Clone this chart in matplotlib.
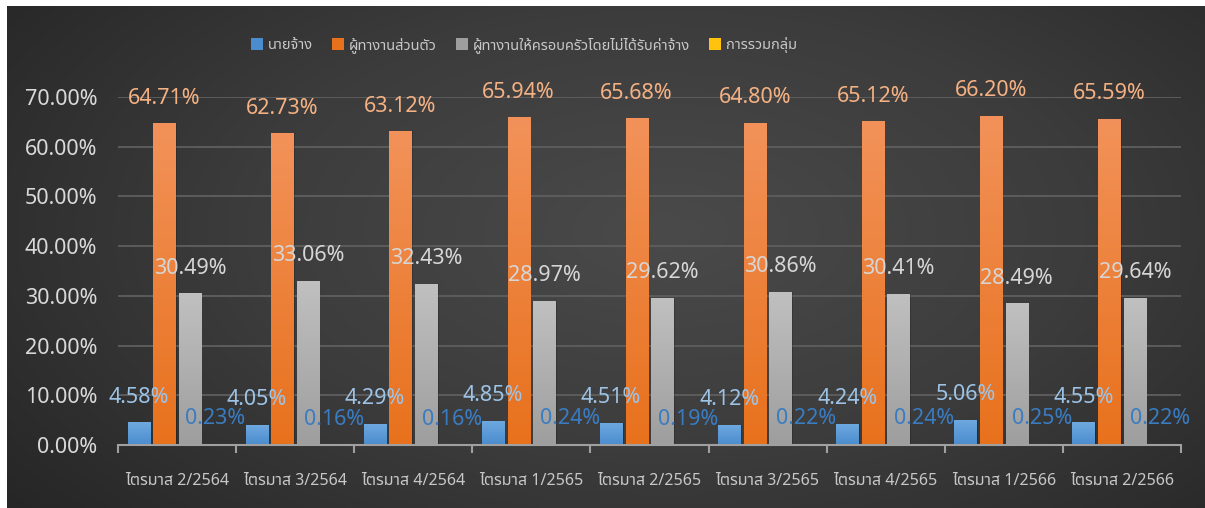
import numpy as np
import matplotlib
matplotlib.use("Agg")
import matplotlib.pyplot as plt
from matplotlib import font_manager
from matplotlib.ft2font import FT2Font
from matplotlib.colors import LinearSegmentedColormap
from matplotlib.patches import Rectangle

# ---- data -------------------------------------------------------------
quarters = ["ไตรมาส 2/2564", "ไตรมาส 3/2564", "ไตรมาส 4/2564",
            "ไตรมาส 1/2565", "ไตรมาส 2/2565", "ไตรมาส 3/2565",
            "ไตรมาส 4/2565", "ไตรมาส 1/2566", "ไตรมาส 2/2566"]
series_names = ["นายจ้าง", "ผู้ทางานส่วนตัว",
                "ผู้ทางานให้ครอบครัวโดยไม่ได้รับค่าจ้าง", "การรวมกลุ่ม"]
employer = [4.58, 4.05, 4.29, 4.85, 4.51, 4.12, 4.24, 5.06, 4.55]
own_account = [64.71, 62.73, 63.12, 65.94, 65.68, 64.80, 65.12, 66.20, 65.59]
family_unpaid = [30.49, 33.06, 32.43, 28.97, 29.62, 30.86, 30.41, 28.49, 29.64]
group_members = [0.23, 0.16, 0.16, 0.24, 0.19, 0.22, 0.24, 0.25, 0.22]
y_ticks = [0, 10, 20, 30, 40, 50, 60, 70]


# ---- fonts ------------------------------------------------------------
def family_covering(char, preferred):
    code = ord(char)
    found = {}
    for fe in font_manager.fontManager.ttflist:
        if fe.name in found:
            continue
        try:
            cmap = FT2Font(fe.fname).get_charmap()
        except Exception:
            continue
        if code in cmap:
            found[fe.name] = fe.fname
    for name in preferred:
        if name in found:
            return name
    return next(iter(found), None)


thai = family_covering("ไ", ["Noto Sans Thai", "Noto Sans Thai UI",
                             "Leelawadee UI", "Tahoma", "Loma", "Garuda",
                             "Sarabun", "Noto Serif Thai", "FreeSans"])
thai_family = ([thai] if thai else []) + ["DejaVu Sans"]
num_family = ["Noto Sans", "DejaVu Sans"]

# ---- figure -----------------------------------------------------------
W, H = 1205, 508
fig = plt.figure(figsize=(W / 100, H / 100), dpi=100, facecolor="white")

# dark panel with a soft radial light in the middle
bg = fig.add_axes([7 / W, 0, (W - 7) / W, (H - 6) / H], zorder=-10)
gy, gx = np.mgrid[0:1:300j, 0:1:700j]
r = np.sqrt(((gx - 0.55) / 0.75) ** 2 + ((gy - 0.55) / 0.95) ** 2)
r = np.clip(r, 0, 1)
bg_cmap = LinearSegmentedColormap.from_list("bg", ["#4a4a4a", "#3c3c3c", "#262626"])
bg.imshow(r, cmap=bg_cmap, aspect="auto", extent=[0, 1, 0, 1], origin="lower",
          interpolation="bicubic")
bg.set_axis_off()

ax = fig.add_axes([118 / W, (H - 445) / H, (1181 - 118) / W, (445 - 97) / H])
ax.set_facecolor("none")

x = np.arange(len(quarters))
step = 0.217
width = 0.187
offsets = [-1.5 * step, -0.5 * step, 0.5 * step, 1.5 * step]
values = [employer, own_account, family_unpaid, group_members]
grad_colors = [("#6fa9e0", "#4a8cce"),
               ("#f2925a", "#e8711c"),
               ("#c0c0c0", "#9e9e9e"),
               ("#ffd84a", "#ffc20f")]
label_colors = ["#9dc3e6", "#f4b183", "#d6d6d6", "#3a7cc2"]

ax.set_xlim(-0.5, len(quarters) - 0.5)
ax.set_ylim(0, 70)

for vals, off, (ctop, cbot), lc, name in zip(values, offsets, grad_colors,
                                               label_colors, series_names):
    bars = ax.bar(x + off, vals, width=width, color=cbot, label=name,
                  zorder=3, linewidth=0)
    cmap = LinearSegmentedColormap.from_list("g", [cbot, ctop])
    grad = np.linspace(0, 1, 128).reshape(-1, 1)
    for b, v in zip(bars, vals):
        bx, bw = b.get_x(), b.get_width()
        # soft shadow to the lower right
        ax.add_patch(Rectangle((bx + 0.012, 0), bw, v, color="black",
                               alpha=0.18, zorder=2, linewidth=0))
        im = ax.imshow(grad, cmap=cmap, aspect="auto", origin="lower",
                       extent=[bx, bx + bw, 0, v], zorder=3.5,
                       interpolation="bilinear")
        im.set_clip_path(b)
        ax.annotate(f"{v:.2f}%", (bx + bw / 2, v), xytext=(0, 18),
                    textcoords="offset points", ha="center", va="center",
                    color=lc, fontsize=15.5, family=num_family, zorder=5)

# grid and axes styling
ax.set_yticks(y_ticks)
ax.set_yticklabels([f"{t:.2f}%" for t in y_ticks], family=num_family,
                   fontsize=15.5, color="#d9d9d9")
ax.yaxis.grid(True, color="#5c5c5c", linewidth=1.4, zorder=0)
ax.tick_params(axis="y", length=0, pad=15)
ax.set_axisbelow(True)

ax.set_xticks(np.arange(-0.5, len(quarters), 1.0))
ax.set_xticklabels([])
ax.set_xticks(x, minor=True)
ax.set_xticklabels(quarters, minor=True, family=thai_family, fontsize=11.5,
                   color="#c8c8c8")
ax.tick_params(axis="x", which="major", length=6, width=1.5, color="#a0a0a0")
ax.tick_params(axis="x", which="minor", length=0, pad=20)

for side in ["top", "right", "left"]:
    ax.spines[side].set_visible(False)
ax.spines["bottom"].set_color("#a0a0a0")
ax.spines["bottom"].set_linewidth(1.5)
ax.spines["bottom"].set_zorder(4)

leg = ax.legend(loc="center", bbox_to_anchor=(524 / W, 1 - 45 / H),
                bbox_transform=fig.transFigure, ncol=4, frameon=False,
                prop={"family": thai_family, "size": 10.5},
                handlelength=0.8, handleheight=0.9, handletextpad=0.35,
                columnspacing=1.3, labelcolor="#c8c8c8")
for h, (ctop, cbot) in zip(leg.legend_handles, grad_colors):
    h.set_color(cbot)

fig.savefig("out.png", dpi=100, facecolor="white")
